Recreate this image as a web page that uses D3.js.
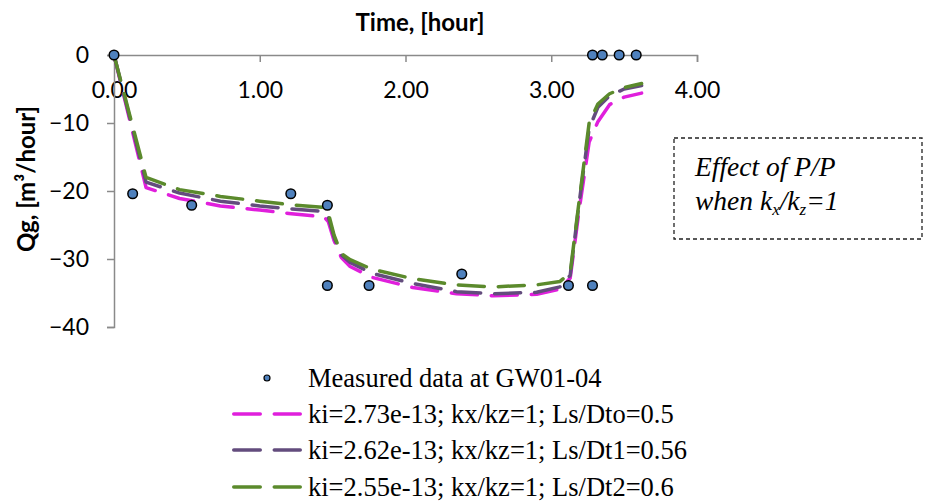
<!DOCTYPE html>
<html>
<head>
<meta charset="utf-8">
<script src="https://cdn.jsdelivr.net/npm/d3@7"></script>
<style>
  html, body { margin: 0; padding: 0; background: #fff; }
  svg { display: block; }
</style>
</head>
<body>
<svg id="chart" width="929" height="501"></svg>
<script>
// ---- data ----
const xTicks = [0, 1, 2, 3, 4];
const yTicks = [0, -10, -20, -30, -40];

const measuredTime = [0, 0.128, 0.533, 1.213, 1.464, 1.464, 1.75, 2.386, 3.118, 3.283, 3.283, 3.35, 3.466, 3.583];
const measuredQg   = [0, -20.4, -22.1, -20.4, -22.1, -33.9, -33.9, -32.2, -33.9, -33.9, 0, 0, 0, 0];

const simTime = [0, 0.22, 0.45, 0.73, 1.0, 1.2, 1.44, 1.47, 1.51, 1.56, 1.62, 1.77, 2.05, 2.35, 2.6, 2.9, 3.06, 3.13, 3.19, 3.26, 3.32, 3.4, 3.5, 3.62];
const qgDto = [0, -19.5, -21.1, -22.2, -22.8, -23.3, -23.8, -24.5, -27.3, -29.8, -31.1, -32.7, -34.2, -35.1, -35.4, -35.2, -34.4, -32.8, -23.0, -12.8, -9.8, -7.3, -6.2, -5.6];
const qgDt1 = [0, -18.7, -20.3, -21.5, -22.2, -22.6, -23.0, -23.8, -26.8, -29.4, -30.5, -32.1, -33.6, -34.8, -35.1, -34.9, -34.1, -32.4, -22.0, -10.8, -7.7, -6.0, -5.0, -4.5];
const qgDt2 = [0, -18.0, -19.8, -20.8, -21.5, -22.0, -22.4, -23.2, -26.5, -29.2, -30.1, -31.5, -32.9, -33.8, -34.1, -33.8, -33.3, -32.0, -21.7, -10.0, -7.2, -5.7, -4.8, -4.2];

const seriesNames = [
  "ki=2.73e-13; kx/kz=1; Ls/Dto=0.5",
  "ki=2.62e-13; kx/kz=1; Ls/Dt1=0.56",
  "ki=2.55e-13; kx/kz=1; Ls/Dt2=0.6"
];
const seriesColors = ["#e01fdc", "#634c7d", "#5b8a2c"];
const measuredName = "Measured data at GW01-04";

// ---- layout ----
const svg = d3.select("#chart");
const x = d3.scaleLinear().domain([0, 4]).range([114, 697]);
const y = d3.scaleLinear().domain([0, -40]).range([55, 327]);

const axisColor = "#8a8a8a";
const tickFont = "Lato, 'Open Sans', sans-serif";

// x axis (at y=0, labels placed well below)
const gx = svg.append("g").attr("transform", `translate(0,${y(0)})`)
  .call(d3.axisBottom(x).tickValues(xTicks).tickFormat(d3.format(".2f")).tickSize(7).tickPadding(20));
gx.select(".domain").attr("stroke", axisColor).attr("stroke-width", 1.5);
gx.selectAll(".tick line").attr("stroke", axisColor).attr("stroke-width", 1.5);
gx.selectAll(".tick text").attr("font-family", tickFont).attr("font-size", 23).attr("fill", "#000");

// y axis
const gy = svg.append("g").attr("transform", `translate(${x(0)},0)`)
  .call(d3.axisLeft(y).tickValues(yTicks).tickFormat(d3.format("d")).tickSize(7).tickPadding(18));
gy.select(".domain").attr("stroke", axisColor).attr("stroke-width", 1.5);
gy.selectAll(".tick line").attr("stroke", axisColor).attr("stroke-width", 1.5);
gy.selectAll(".tick text").attr("font-family", tickFont).attr("font-size", 23).attr("fill", "#000");

// axis titles
svg.append("text").attr("x", 420).attr("y", 31).attr("text-anchor", "middle")
  .attr("font-family", tickFont).attr("font-weight", "bold").attr("font-size", 24)
  .text("Time, [hour]");
svg.append("text").attr("transform", "translate(35,179) rotate(-90)").attr("text-anchor", "middle")
  .attr("font-family", tickFont).attr("font-weight", "bold").attr("font-size", 24)
  .text("Qg, [m³/hour]");

// simulated lines
const simSeries = [qgDto, qgDt1, qgDt2];
const line = d3.line().x(d => x(d[0])).y(d => y(d[1]));
simSeries.forEach((vals, i) => {
  svg.append("path")
    .datum(simTime.map((t, k) => [t, vals[k]]))
    .attr("d", line)
    .attr("fill", "none")
    .attr("stroke", seriesColors[i])
    .attr("stroke-width", 3.5)
    .attr("stroke-linecap", "round")
    .attr("stroke-linejoin", "round")
    .attr("stroke-dasharray", "26,14");
});

// measured points
svg.append("g").selectAll("circle")
  .data(measuredTime.map((t, k) => [t, measuredQg[k]]))
  .join("circle")
  .attr("cx", d => x(d[0])).attr("cy", d => y(d[1])).attr("r", 4.8)
  .attr("fill", "#4f81bd").attr("stroke", "#000").attr("stroke-width", 1.5);

// text box
svg.append("rect").attr("x", 674).attr("y", 138).attr("width", 248).attr("height", 101)
  .attr("fill", "#fff").attr("stroke", "#222").attr("stroke-width", 1.3).attr("stroke-dasharray", "4,3");
const serif = "'Liberation Serif', 'Times New Roman', serif";
svg.append("text").attr("x", 695).attr("y", 176).attr("font-family", serif).attr("font-style", "italic")
  .attr("font-size", 27.5).text("Effect of P/P");
const t2 = svg.append("text").attr("x", 695).attr("y", 210).attr("font-family", serif).attr("font-style", "italic")
  .attr("font-size", 27.5);
t2.append("tspan").text("when k");
t2.append("tspan").attr("font-size", 17).attr("dy", 5).text("x");
t2.append("tspan").attr("dy", -5).text("/k");
t2.append("tspan").attr("font-size", 17).attr("dy", 5).text("z");
t2.append("tspan").attr("dy", -5).text("=1");

// legend
const legX = 232, legTextX = 308;
const rowY = [378, 414, 450, 487];
const legFont = 26.5;
svg.append("circle").attr("cx", 267).attr("cy", rowY[0]).attr("r", 3)
  .attr("fill", "#4f81bd").attr("stroke", "#000").attr("stroke-width", 1.2);
svg.append("text").attr("x", legTextX).attr("y", rowY[0] + 9).attr("font-family", serif)
  .attr("font-size", legFont).text(measuredName);
seriesNames.forEach((name, i) => {
  const yy = rowY[i + 1];
  svg.append("line").attr("x1", legX + 1.75).attr("x2", 302 - 1.75).attr("y1", yy).attr("y2", yy)
    .attr("stroke", seriesColors[i]).attr("stroke-width", 3.5).attr("stroke-linecap", "round")
    .attr("stroke-dasharray", "26.5,14");
  svg.append("text").attr("x", legTextX).attr("y", yy + 9).attr("font-family", serif)
    .attr("font-size", legFont).text(name);
});
</script>
</body>
</html>
